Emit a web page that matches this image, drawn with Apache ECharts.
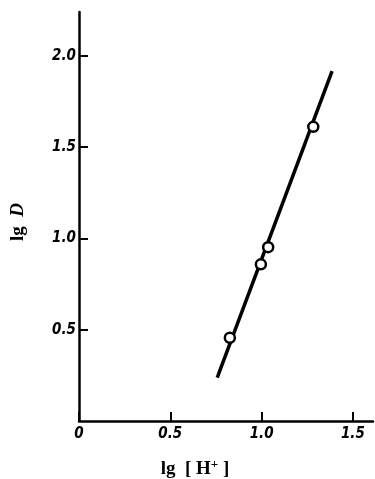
<!DOCTYPE html>
<html>
<head>
<meta charset="utf-8">
<script src="https://cdn.jsdelivr.net/npm/echarts@6/dist/echarts.min.js"></script>
<style>
  html, body { margin: 0; padding: 0; background: #fff; }
  #chart { width: 375px; height: 479px; }
</style>
</head>
<body>
<div id="chart"></div>
<script>
// 测量点 lg[H+] / lg D
const pointX = [0.826, 0.996, 1.036, 1.283];
const pointY = [0.456, 0.858, 0.952, 1.611];
// 拟合直线两端
const lineX = [0.757, 1.386];
const lineY = [0.237, 1.916];
// 刻度
const xTicks = [0, 0.5, 1.0, 1.5];
const yTicks = [0.5, 1.0, 1.5, 2.0];

const myChart = echarts.init(document.getElementById('chart'));

const tickFont = {
  color: '#000',
  fontSize: 15,
  fontWeight: 'bold',
  fontStyle: 'italic',
  fontFamily: 'DejaVu Sans Condensed'
};

const nameFont = { fontFamily: 'Liberation Serif', fontWeight: 'bold', fontSize: 19, color: '#000' };

const option = {
  animation: false,
  grid: { left: 79, right: 2, top: 12, bottom: 58, outerBoundsMode: 'none', containLabel: false },
  xAxis: {
    type: 'value',
    min: 0,
    max: 1.61,
    name: '{n|lg  [ H}{s|+}{n| ]}',
    nameLocation: 'middle',
    nameGap: 37,
    nameTextStyle: {
      padding: [0, 62, 0, 0],
      rich: {
        n: nameFont,
        s: Object.assign({}, nameFont, { fontSize: 13, verticalAlign: 'top', padding: [0, 0, 9, 0] })
      }
    },
    axisLine: { lineStyle: { color: '#000', width: 2.5 } },
    axisTick: { inside: true, length: 9, lineStyle: { color: '#000', width: 2 }, customValues: xTicks },
    axisLabel: Object.assign({
      margin: 6,
      customValues: xTicks,
      formatter: v => (v === 0 ? '0' : v.toFixed(1))
    }, tickFont),
    splitLine: { show: false }
  },
  yAxis: {
    type: 'value',
    min: 0,
    max: 2.24,
    name: '{n|lg  }{i|D}',
    nameLocation: 'middle',
    nameRotate: 90,
    nameGap: 51,
    nameTextStyle: {
      padding: [0, 11, 0, 0],
      rich: {
        n: nameFont,
        i: Object.assign({}, nameFont, { fontStyle: 'italic' })
      }
    },
    axisLine: { show: true, lineStyle: { color: '#000', width: 2.5 } },
    axisTick: { show: true, inside: true, length: 9, lineStyle: { color: '#000', width: 2 }, customValues: yTicks },
    axisLabel: Object.assign({
      margin: 3,
      customValues: yTicks,
      formatter: v => v.toFixed(1)
    }, tickFont),
    splitLine: { show: false }
  },
  series: [
    {
      type: 'line',
      data: lineX.map((x, i) => [x, lineY[i]]),
      symbol: 'none',
      lineStyle: { color: '#000', width: 3.5 },
      z: 2
    },
    {
      type: 'scatter',
      data: pointX.map((x, i) => [x, pointY[i]]),
      symbol: 'circle',
      symbolSize: 10,
      itemStyle: { color: '#fff', borderColor: '#000', borderWidth: 2.5, opacity: 1 },
      z: 3
    }
  ]
};

myChart.setOption(option);
</script>
</body>
</html>
